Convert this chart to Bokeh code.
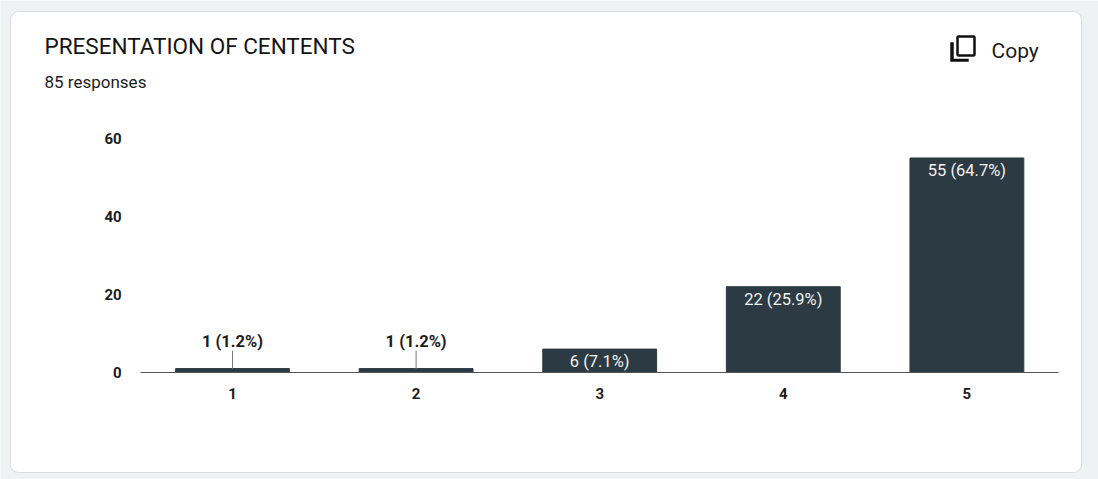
from bokeh.plotting import figure
from bokeh.embed import file_html
from bokeh.resources import INLINE
from bokeh.core.properties import value
from bokeh.models import Range1d, FixedTicker

title_text = "PRESENTATION OF CENTENTS"
subtitle_text = "85 responses"
copy_text = "Copy"
categories = [1, 2, 3, 4, 5]
counts = [1, 1, 6, 22, 55]
percents = ["1.2", "1.2", "7.1", "25.9", "64.7"]
y_ticks = [0, 20, 40, 60]

W, H = 1098, 479
BAR = "#2b3a43"
TXT = "#1c1c1c"
FONT = "Roboto"

# pixel layout of the plot area: where category 1 and value 0 fall, and the size of one unit
X1_PX, X_UNIT = 232.0, 183.6
Y0_PX, Y_UNIT = 372.0, 3.9


def dx(px):
    return 1 + (px - X1_PX) / X_UNIT


def dy(py):
    return (Y0_PX - py) / Y_UNIT


labels = [f"{c} ({q}%)" for c, q in zip(counts, percents)]
small = [c < 5 for c in counts]

p = figure(width=W, height=H, output_backend="svg", toolbar_location=None,
           x_range=Range1d(dx(0), dx(W)), y_range=Range1d(dy(H), dy(0)),
           min_border=0)
p.outline_line_color = None
p.background_fill_color = "#eff1f2"
p.border_fill_color = "#eff1f2"
p.grid.visible = False

# card
p.quad(left=[dx(10)], right=[dx(1081)], top=[dy(11)], bottom=[dy(472)],
       fill_color="white", line_color="#dcdcdc", line_width=1, border_radius=8)

p.vbar(x=categories, top=counts, width=0.62, color=BAR)

p.xaxis.ticker = FixedTicker(ticks=categories)
p.yaxis.ticker = FixedTicker(ticks=y_ticks)
p.xaxis.fixed_location = 0
p.yaxis.fixed_location = 0.5
p.xaxis.bounds = (0.5, 5.5)
p.yaxis.bounds = (0, 60)
for ax in (p.xaxis[0], p.yaxis[0]):
    ax.major_tick_line_color = None
    ax.minor_tick_line_color = None
    ax.major_label_text_font = FONT
    ax.major_label_text_font_size = "15px"
    ax.major_label_text_font_style = "bold"
    ax.major_label_text_color = TXT
p.yaxis.axis_line_color = None
p.yaxis.major_label_standoff = 13
p.xaxis.axis_line_color = "#555555"
p.xaxis.axis_line_width = 1.2
p.xaxis.major_label_standoff = 9

for i, c in enumerate(counts):
    if small[i]:
        p.segment([categories[i]], [c], [categories[i]], [c + 4.6], color="#777777", line_width=1)
        p.text([categories[i]], [c + 4.6], text=[labels[i]], text_align="center", text_baseline="bottom",
               text_font=value(FONT), text_font_size="16.5px", text_font_style="bold", text_color=TXT)
    else:
        p.text([categories[i]], [c], text=[labels[i]], text_align="center", text_baseline="top",
               text_font=value(FONT), text_font_size="16.5px", text_color="#f2f2f2", y_offset=3)

p.text([dx(44)], [dy(45)], text=[title_text], text_baseline="middle",
       text_font=value(FONT), text_font_size="22.5px", text_color="#151515")
p.text([dx(44)], [dy(81)], text=[subtitle_text], text_baseline="middle",
       text_font=value(FONT), text_font_size="17px", text_color=TXT)
p.text([dx(991)], [dy(50)], text=[copy_text], text_baseline="middle",
       text_font=value(FONT), text_font_size="21px", text_color="#1a1a1a")

# copy icon
p.quad(left=[dx(957)], right=[dx(974)], top=[dy(36)], bottom=[dy(55)],
       fill_alpha=0, line_color="#111111", line_width=2.5, border_radius=1)
p.patch(x=[dx(v) for v in [950, 950, 968, 968, 953, 953]],
        y=[dy(v) for v in [42, 61, 61, 58.5, 58.5, 42]], color="#111111", line_width=0.5)

open("out.html", "w").write(file_html(p, INLINE))
